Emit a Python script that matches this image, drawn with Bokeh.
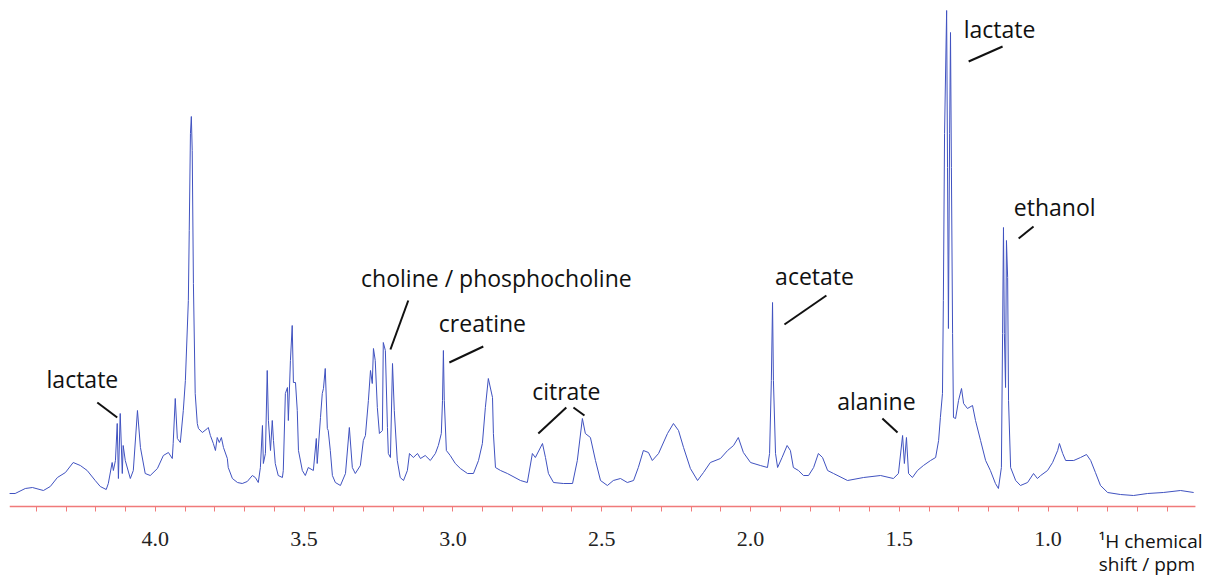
from bokeh.plotting import figure
from bokeh.models import Range1d, FixedTicker, ColumnDataSource, PrintfTickFormatter
from bokeh.core.properties import value
from bokeh.embed import file_html
from bokeh.resources import INLINE

# chemical shift (ppm) and intensity (a.u.)
ppm = [
    4.491, 4.471, 4.437, 4.413, 4.376, 4.353, 4.329, 4.302, 4.276, 4.252,
    4.229, 4.202, 4.185, 4.165, 4.158, 4.145, 4.141, 4.134, 4.128, 4.124,
    4.118, 4.111, 4.108, 4.101, 4.084, 4.074, 4.060, 4.050, 4.034, 4.017,
    3.993, 3.973, 3.956, 3.943, 3.940, 3.933, 3.926, 3.916, 3.906, 3.899,
    3.889, 3.886, 3.882, 3.879, 3.876, 3.872, 3.866, 3.859, 3.855, 3.842,
    3.825, 3.822, 3.815, 3.805, 3.798, 3.792, 3.785, 3.778, 3.771, 3.758,
    3.755, 3.741, 3.724, 3.708, 3.691, 3.674, 3.664, 3.654, 3.647, 3.640,
    3.637, 3.630, 3.624, 3.620, 3.613, 3.607, 3.603, 3.597, 3.587, 3.573,
    3.570, 3.563, 3.556, 3.553, 3.546, 3.540, 3.536, 3.529, 3.523, 3.519,
    3.506, 3.496, 3.486, 3.469, 3.459, 3.456, 3.445, 3.439, 3.435, 3.429,
    3.422, 3.419, 3.412, 3.405, 3.395, 3.378, 3.361, 3.348, 3.338, 3.328,
    3.311, 3.301, 3.294, 3.284, 3.277, 3.271, 3.267, 3.261, 3.254, 3.247,
    3.237, 3.234, 3.227, 3.220, 3.217, 3.210, 3.203, 3.197, 3.187, 3.177,
    3.166, 3.153, 3.146, 3.133, 3.119, 3.109, 3.093, 3.076, 3.059, 3.049,
    3.039, 3.035, 3.032, 3.029, 3.022, 3.009, 2.992, 2.975, 2.951, 2.931,
    2.914, 2.901, 2.891, 2.881, 2.867, 2.864, 2.857, 2.840, 2.817, 2.773,
    2.750, 2.733, 2.723, 2.699, 2.689, 2.679, 2.662, 2.629, 2.598, 2.582,
    2.565, 2.555, 2.538, 2.521, 2.504, 2.481, 2.461, 2.437, 2.414, 2.393,
    2.377, 2.360, 2.343, 2.330, 2.309, 2.279, 2.259, 2.242, 2.225, 2.202,
    2.178, 2.158, 2.135, 2.101, 2.077, 2.057, 2.041, 2.024, 2.000, 1.967,
    1.943, 1.936, 1.930, 1.926, 1.923, 1.916, 1.909, 1.894, 1.877, 1.866,
    1.856, 1.839, 1.822, 1.805, 1.788, 1.772, 1.758, 1.741, 1.721, 1.674,
    1.620, 1.563, 1.520, 1.503, 1.489, 1.483, 1.476, 1.469, 1.456, 1.439,
    1.419, 1.395, 1.378, 1.368, 1.362, 1.355, 1.352, 1.348, 1.341, 1.338,
    1.335, 1.331, 1.328, 1.325, 1.321, 1.318, 1.311, 1.301, 1.291, 1.284,
    1.271, 1.254, 1.244, 1.227, 1.210, 1.194, 1.177, 1.167, 1.157, 1.153,
    1.150, 1.147, 1.143, 1.140, 1.136, 1.133, 1.126, 1.109, 1.093, 1.069,
    1.049, 1.036, 1.025, 1.002, 0.985, 0.968, 0.962, 0.951, 0.941, 0.914,
    0.891, 0.871, 0.857, 0.841, 0.824, 0.800, 0.757, 0.713, 0.666, 0.613,
    0.555, 0.511,
]
intensity = [
    13, 13, 18, 19, 16, 20, 29, 34, 44, 41,
    36, 26, 20, 17, 23, 44, 36, 46, 83, 28,
    93, 33, 61, 46, 28, 36, 96, 59, 33, 31,
    38, 51, 54, 48, 63, 108, 68, 64, 96, 126,
    206, 276, 373, 390, 356, 223, 113, 83, 78, 74,
    78, 79, 71, 63, 56, 69, 64, 69, 59, 48,
    39, 28, 24, 23, 25, 31, 29, 24, 39, 81,
    43, 53, 136, 86, 56, 86, 66, 43, 31, 29,
    36, 113, 119, 86, 146, 181, 124, 124, 96, 56,
    36, 31, 39, 36, 68, 43, 89, 113, 118, 138,
    78, 76, 56, 31, 24, 21, 33, 79, 39, 33,
    41, 66, 71, 106, 136, 123, 158, 146, 99, 73,
    76, 164, 156, 79, 53, 49, 143, 96, 46, 29,
    26, 36, 53, 49, 53, 48, 51, 46, 53, 61,
    73, 106, 156, 106, 56, 51, 43, 38, 33, 33,
    46, 63, 99, 128, 109, 73, 39, 36, 33, 26,
    24, 53, 49, 63, 49, 33, 24, 23, 23, 46,
    88, 73, 69, 46, 26, 21, 26, 28, 24, 26,
    39, 56, 54, 46, 53, 73, 83, 76, 59, 38,
    26, 34, 44, 48, 56, 61, 69, 54, 44, 41,
    39, 53, 126, 204, 126, 53, 39, 49, 61, 56,
    39, 36, 31, 31, 39, 53, 49, 36, 33, 26,
    29, 31, 28, 33, 71, 43, 69, 33, 29, 36,
    41, 46, 49, 66, 89, 113, 206, 373, 496, 339,
    178, 373, 474, 339, 173, 89, 88, 106, 118, 103,
    98, 101, 86, 66, 46, 36, 23, 18, 39, 173,
    279, 173, 119, 266, 229, 106, 39, 26, 21, 24,
    33, 28, 31, 36, 44, 56, 63, 53, 46, 46,
    49, 52, 46, 34, 21, 14, 12, 11, 13, 14,
    16, 14,
]

# axis extent and ticks
axis_start = 4.49
axis_end = 0.505
major_ticks = [1.0, 1.5, 2.0, 2.5, 3.0, 3.5, 4.0]
minor_ticks = [0.6, 0.7, 0.8, 0.9, 1.1, 1.2, 1.3, 1.4, 1.6, 1.7, 1.8, 1.9,
               2.1, 2.2, 2.3, 2.4, 2.6, 2.7, 2.8, 2.9, 3.1, 3.2, 3.3, 3.4,
               3.6, 3.7, 3.8, 3.9, 4.1, 4.2, 4.3, 4.4]

labels = ["lactate", "choline / phosphocholine", "creatine", "citrate",
          "acetate", "alanine", "lactate", "ethanol"]
label_ppm = [4.245, 2.854, 2.901, 2.619, 1.785, 1.577, 1.163, 0.978]
label_int = [128, 229, 184, 116, 231, 106, 478, 300]

pointer_ppm0 = [4.195, 3.150, 2.898, 2.619, 2.595, 1.745, 1.557, 1.153, 1.049]
pointer_int0 = [104, 206, 160, 99, 99, 211, 88, 460, 280]
pointer_ppm1 = [4.128, 3.210, 3.012, 2.713, 2.558, 1.886, 1.506, 1.267, 1.099]
pointer_int1 = [89, 157, 144, 73, 91, 182, 74, 445, 268]

axis_title = ["\u00b9H chemical", "shift / ppm"]
axis_title_ppm = [0.830, 0.830]
axis_title_int = [-34, -57]

p = figure(width=1211, height=577,
           x_range=Range1d(axis_start, 0.451), y_range=Range1d(-71, 506),
           min_border_left=9, min_border_right=0, min_border_top=0,
           min_border_bottom=0, y_axis_location=None,
           output_backend="svg", toolbar_location=None)
p.outline_line_color = None
p.xgrid.visible = False
p.ygrid.visible = False
p.background_fill_color = "white"
p.border_fill_color = "white"

red = "#f07a7a"
ax = p.xaxis[0]
ax.fixed_location = 0
ax.ticker = FixedTicker(ticks=major_ticks, minor_ticks=minor_ticks)
ax.formatter = PrintfTickFormatter(format="%.1f")
ax.axis_line_color = None
ax.major_tick_line_color = red
ax.minor_tick_line_color = red
ax.major_tick_in = 0
ax.major_tick_out = 5
ax.minor_tick_in = 0
ax.minor_tick_out = 5
ax.major_label_text_font = "Liberation Serif"
ax.major_label_text_font_size = "22px"
ax.major_label_text_color = "#222222"
ax.major_label_standoff = 20

# red axis baseline spanning the spectral window
p.segment(x0=[axis_start], y0=[0], x1=[axis_end], y1=[0],
          line_color=red, line_width=1.5)

spec = ColumnDataSource(dict(x=ppm, y=intensity))
p.line("x", "y", source=spec, line_color="#4052c0", line_width=1)

ptr = ColumnDataSource(dict(x0=pointer_ppm0, y0=pointer_int0,
                            x1=pointer_ppm1, y1=pointer_int1))
p.segment("x0", "y0", "x1", "y1", source=ptr, line_color="#111111", line_width=2)

lab = ColumnDataSource(dict(x=label_ppm, y=label_int, t=labels))
p.text("x", "y", text="t", source=lab, text_font=value("Open Sans"),
       text_font_size="23px", text_color="#111111", text_align="center",
       text_baseline="alphabetic")

ttl = ColumnDataSource(dict(x=axis_title_ppm, y=axis_title_int, t=axis_title))
p.text("x", "y", text="t", source=ttl, text_font=value("Open Sans"),
       text_font_size="19px", text_color="#111111", text_align="left",
       text_baseline="alphabetic")

open("out.html", "w").write(file_html(p, INLINE))
